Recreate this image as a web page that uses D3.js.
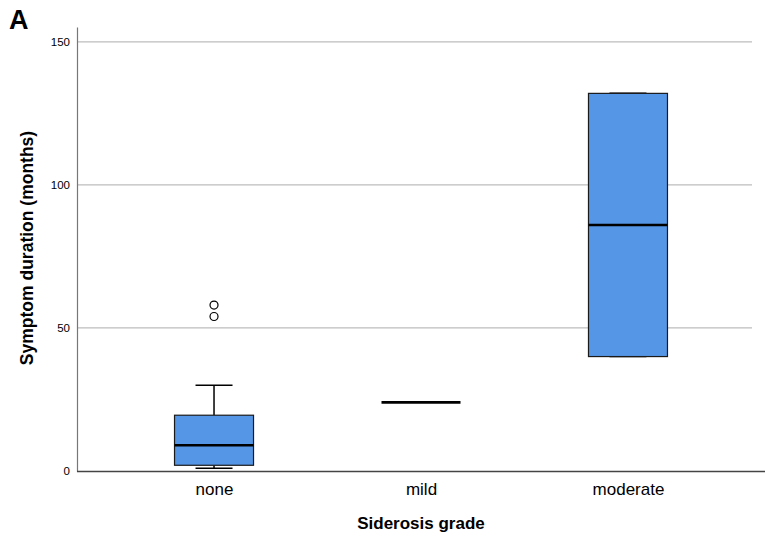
<!DOCTYPE html>
<html><head><meta charset="utf-8">
<script src="https://cdn.jsdelivr.net/npm/d3@7"></script>
<style>body{margin:0;background:#fff;} text{font-family:"Liberation Sans",Arial,sans-serif;}</style>
</head><body>
<svg id="c" width="765" height="540"></svg>
<script>
const categories = ["none", "mild", "moderate"];
const whiskerLow = [1, 24, 40];
const q1 = [2, 24, 40];
const medians = [9, 24, 86];
const q3 = [19.5, 24, 132];
const whiskerHigh = [30, 24, 132];
const outliers = [[58, 54], [], []];
const yTicks = [0, 50, 100, 150];

const svg = d3.select("#c");
const L = 77, R = 765, T = 27, B = 471;
const x = d3.scalePoint().domain(categories).range([L, R]).padding(0.662);
const y = d3.scaleLinear().domain([0, 155.2]).range([B, T]);
const boxW = 79, capW = 37;

// gridlines
svg.append("g").selectAll("line").data(yTicks.filter(d => d > 0)).join("line")
  .attr("x1", L).attr("x2", 752).attr("y1", d => y(d)).attr("y2", d => y(d))
  .attr("stroke", "#bdbdbd").attr("stroke-width", 1.2);

// y axis
const ya = svg.append("g").attr("transform", `translate(${L},0)`)
  .call(d3.axisLeft(y).tickValues(yTicks).tickSize(0).tickPadding(7));
ya.select(".domain").attr("stroke", "#777").attr("stroke-width", 1.2);
ya.selectAll("text").attr("font-size", 11.5).attr("fill", "#000")
  .attr("font-family", "Liberation Sans, Arial, sans-serif");

// x axis
const xa = svg.append("g").attr("transform", `translate(0,${B})`)
  .call(d3.axisBottom(x).tickSize(0).tickPadding(12));
xa.select(".domain").attr("stroke", "#444").attr("stroke-width", 1.3).attr("d", `M${L},0.5H${R}`);
xa.selectAll("text").attr("font-size", 17).attr("fill", "#000")
  .attr("font-family", "Liberation Sans, Arial, sans-serif");

const data = categories.map((c, i) => ({c, lo: whiskerLow[i], q1: q1[i], med: medians[i], q3: q3[i], hi: whiskerHigh[i], out: outliers[i]}));
const g = svg.append("g").selectAll("g").data(data).join("g");

// whiskers
g.append("line").attr("x1", d => x(d.c)).attr("x2", d => x(d.c))
  .attr("y1", d => y(d.q3)).attr("y2", d => y(d.hi)).attr("stroke", "#000").attr("stroke-width", 1.5);
g.append("line").attr("x1", d => x(d.c)).attr("x2", d => x(d.c))
  .attr("y1", d => y(d.q1)).attr("y2", d => y(d.lo)).attr("stroke", "#000").attr("stroke-width", 1.5);
g.filter(d => d.hi > d.q3 || d.c === "moderate").append("line").attr("x1", d => x(d.c) - capW / 2).attr("x2", d => x(d.c) + capW / 2)
  .attr("y1", d => y(d.hi)).attr("y2", d => y(d.hi)).attr("stroke", "#000").attr("stroke-width", 1.5);
g.filter(d => d.lo < d.q1 || d.c === "moderate").append("line").attr("x1", d => x(d.c) - capW / 2).attr("x2", d => x(d.c) + capW / 2)
  .attr("y1", d => y(d.lo)).attr("y2", d => y(d.lo)).attr("stroke", "#000").attr("stroke-width", 1.5);

// boxes
g.filter(d => d.q3 > d.q1).append("rect")
  .attr("x", d => x(d.c) - boxW / 2).attr("width", boxW)
  .attr("y", d => y(d.q3)).attr("height", d => y(d.q1) - y(d.q3))
  .attr("fill", "#5596e6").attr("stroke", "#1a1a1a").attr("stroke-width", 1.2);

// medians
g.append("line").attr("x1", d => x(d.c) - boxW / 2).attr("x2", d => x(d.c) + boxW / 2)
  .attr("y1", d => y(d.med)).attr("y2", d => y(d.med)).attr("stroke", "#000").attr("stroke-width", 2.6);

// outliers
g.selectAll("circle").data(d => d.out.map(v => ({c: d.c, v}))).join("circle")
  .attr("cx", d => x(d.c)).attr("cy", d => y(d.v)).attr("r", 4)
  .attr("fill", "#fff").attr("stroke", "#000").attr("stroke-width", 1.2);

// titles
svg.append("text").attr("x", 421).attr("y", 529).attr("text-anchor", "middle")
  .attr("font-size", 17).attr("font-weight", "bold").text("Siderosis grade");
svg.append("text").attr("transform", "translate(33,248) rotate(-90)").attr("text-anchor", "middle")
  .attr("font-size", 17.5).attr("font-weight", "bold").text("Symptom duration (months)");
svg.append("text").attr("x", 9).attr("y", 29).attr("font-size", 27).attr("font-weight", "bold").text("A");
</script>
</body></html>
